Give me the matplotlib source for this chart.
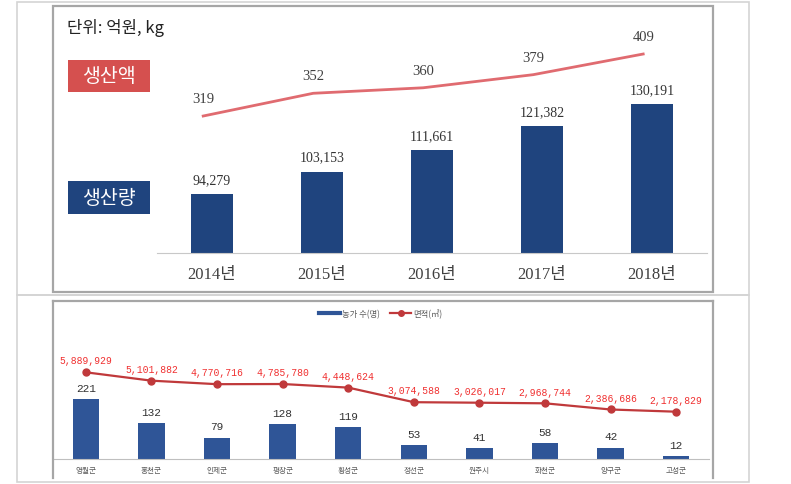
import matplotlib
matplotlib.use("Agg")
import matplotlib.pyplot as plt
from matplotlib.patches import Rectangle
from matplotlib.lines import Line2D

plt.rcParams['font.family'] = ['Noto Sans CJK KR', 'DejaVu Sans']

# top chart: production by year
years = ["2014년", "2015년", "2016년", "2017년", "2018년"]
volume_kg = [94279, 103153, 111661, 121382, 130191]
value_100m = [319, 352, 360, 379, 409]

# bottom chart: by region
regions = ["영월군", "홍천군", "인제군", "평창군", "횡성군",
           "정선군", "원주시", "화천군", "양구군", "고성군"]
farms = [221, 132, 79, 128, 119, 53, 41, 58, 42, 12]
area_m2 = [5889929, 5101882, 4770716, 4785780, 4448624,
           3074588, 3026017, 2968744, 2386686, 2178829]

W, H = 791, 485
fig = plt.figure(figsize=(W / 100, H / 100), dpi=100)


def box(x0, y0, x1, y1):
    return [x0 / W, 1 - y1 / H, (x1 - x0) / W, (y1 - y0) / H]


def frame(x0, y0, x1, y1, color, lw, **kw):
    fig.add_artist(Rectangle((x0 / W, 1 - y1 / H), (x1 - x0) / W, (y1 - y0) / H,
                             transform=fig.transFigure, fill=False, ec=color,
                             lw=lw, **kw))


# panel borders
frame(17, 3, 749, 296, "#d4d4d4", 1.2)
frame(17, 296, 749, 483, "#d4d4d4", 1.2)
frame(53, 7, 713, 293, "#a6a6a6", 1.6)
for xs, ys in [([53, 53], [302, 479]), ([713, 713], [302, 479]), ([53, 713], [302, 302])]:
    fig.add_artist(Line2D([x / W for x in xs], [1 - y / H for y in ys],
                          transform=fig.transFigure, color="#a6a6a6", lw=1.6))

# ---- top chart
navy = "#1f447e"
pink = "#e06b70"
serif = ["Liberation Serif", "Noto Sans CJK KR"]

ax = fig.add_axes(box(157, 30, 707, 254))
xs = list(range(len(years)))
ax.bar(xs, volume_kg, width=0.39, color=navy)
ax.set_xlim(-0.5, 4.5)
ax.set_ylim(70736, 160122)
for x, v in zip(xs, volume_kg):
    ax.annotate(f"{v:,}", (x, v), xytext=(0, 10.5), textcoords="offset points",
                ha="center", va="center", fontsize=10, family=serif,
                color="#333333")
ax.set_yticks([])
ax.set_xticks(xs)
ax.set_xticklabels(years, family=serif, fontsize=12, color="#404040")
ax.tick_params(axis="x", length=0, pad=9)
for s in ["top", "left", "right"]:
    ax.spines[s].set_visible(False)
ax.spines["bottom"].set_color("#c8c8c8")
ax.patch.set_alpha(0)

ax2 = ax.twinx()
lx = [x - 0.08 for x in xs]
ax2.plot(lx, value_100m, color=pink, lw=2)
ax2.set_ylim(120.2, 445.3)
ax2.set_xlim(-0.5, 4.5)
for x, v in zip(lx, value_100m):
    ax2.annotate(f"{v}", (x, v), xytext=(0, 12.5), textcoords="offset points",
                 ha="center", va="center", fontsize=10.5, family=serif,
                 color="#404040")
ax2.set_yticks([])
ax2.axis("off")

fig.text(67 / W, 1 - 28 / H, "단위: 억원, kg", fontsize=12, va="center",
         ha="left", color="#222222")
for (y0, y1), label, col in [((61, 93), "생산액", "#d5504f"),
                             ((182, 215), "생산량", navy)]:
    fig.add_artist(Rectangle((68 / W, 1 - y1 / H), 82 / W, (y1 - y0) / H,
                             transform=fig.transFigure, color=col, lw=0))
    fig.text(109 / W, 1 - (y0 + y1) / 2 / H, label, fontsize=14,
             color="white", ha="center", va="center")

# ---- bottom chart
blue = "#2f5597"
red = "#c0393b"

bx = fig.add_axes(box(53, 302, 709, 460))
rx = list(range(len(regions)))
bx.bar(rx, farms, width=0.4, color=blue)
bx.set_xlim(-0.5, 9.5)
bx.set_ylim(0, 582)
for x, v in zip(rx, farms):
    bx.annotate(f"{v}", (x, v), xytext=(0, 8), textcoords="offset points",
                ha="center", va="center", fontsize=8, color="#333333",
                family=["Liberation Mono", "DejaVu Sans"])
bx.set_yticks([])
bx.set_xticks(rx)
bx.set_xticklabels(regions, fontsize=5.5, color="#595959")
bx.tick_params(axis="x", length=0, pad=5)
for s in ["top", "left", "right"]:
    bx.spines[s].set_visible(False)
bx.spines["bottom"].set_color("#bfbfbf")
bx.patch.set_alpha(0)

bx2 = bx.twinx()
bx2.plot(rx, area_m2, color=red, lw=1.6, marker="o", ms=5)
bx2.set_ylim(-2.275e6, 12.604e6)
bx2.set_xlim(-0.5, 9.5)
for x, v in zip(rx, area_m2):
    bx2.annotate(f"{v:,}", (x, v), xytext=(0, 8.5), textcoords="offset points",
                 ha="center", va="center", fontsize=7, color="#f03030",
                 family=["Liberation Mono", "DejaVu Sans"])
bx2.axis("off")

handles = [Line2D([], [], color=blue, lw=3),
           Line2D([], [], color=red, lw=1.6, marker="o", ms=4)]
bx.legend(handles, ["농가 수(명)", "면적(㎡)"], loc="upper center",
          bbox_to_anchor=(0.5, 1.0), ncol=2, frameon=False, fontsize=6,
          handlelength=2.5, columnspacing=1.2, handletextpad=0.3,
          labelcolor="#595959")

fig.savefig("out.png", dpi=100)
